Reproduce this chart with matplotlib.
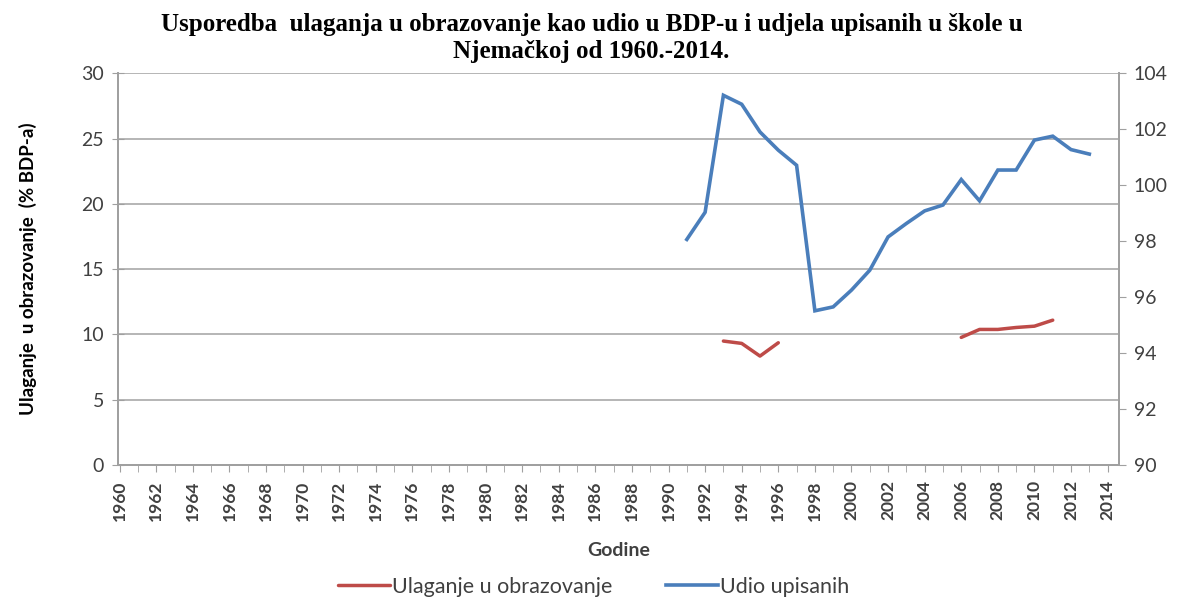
import numpy as np
import matplotlib
matplotlib.use("Agg")
import matplotlib.pyplot as plt
from matplotlib.ticker import MultipleLocator

# ── Data ──────────────────────────────────────────────────────────────────────
years_upis = list(range(1991, 2014))
udio_upisanih = [98.06, 99.03, 103.21, 102.89, 101.9, 101.25, 100.71, 95.51,
                 95.65, 96.25, 96.96, 98.15, 98.63, 99.08, 99.29, 100.2,
                 99.44, 100.54, 100.54, 101.61, 101.75, 101.27, 101.11]

years_ulag_a = [1993, 1994, 1995, 1996]
ulaganje_a = [9.49, 9.31, 8.34, 9.36]
years_ulag_b = [2006, 2007, 2008, 2009, 2010, 2011]
ulaganje_b = [9.77, 10.38, 10.38, 10.53, 10.63, 11.09]

year_ticks = list(range(1960, 2015, 2))

RED = "#be4b48"
BLUE = "#4a7ebb"
TXT = "#404040"

plt.rcParams.update({
    "font.family": ["Lato", "DejaVu Sans"],
    "axes.edgecolor": "#a0a0a0",
    "xtick.color": "#a0a0a0",
    "ytick.color": "#a0a0a0",
    "xtick.labelcolor": TXT,
    "ytick.labelcolor": TXT,
})

fig = plt.figure(figsize=(11.9, 6), dpi=100)
ax = fig.add_axes([0.099, 0.225, 0.841, 0.653])
ax2 = ax.twinx()

# red series on left axis, gap between the two runs
ax.plot(years_ulag_a, ulaganje_a, color=RED, lw=2.5, solid_capstyle="round")
ax.plot(years_ulag_b, ulaganje_b, color=RED, lw=2.5, solid_capstyle="round",
        label="Ulaganje u obrazovanje")
ax2.plot(years_upis, udio_upisanih, color=BLUE, lw=2.6, solid_joinstyle="miter",
         label="Udio upisanih")

ax.set_xlim(1959.9, 2014.6)
ax.set_ylim(0, 30)
ax2.set_ylim(90, 104)
ax.yaxis.set_major_locator(MultipleLocator(5))
ax2.yaxis.set_major_locator(MultipleLocator(2))
ax.set_xticks(year_ticks)
ax.set_xticks(range(1960, 2015), minor=True)
ax.set_xticklabels([str(y) for y in year_ticks], rotation=90, fontsize=12.5,
                   fontweight="bold")
ax.tick_params(axis="x", which="both", direction="out", length=5, pad=6)
ax.tick_params(axis="y", direction="inout", length=8, labelsize=14, pad=6)
ax2.tick_params(axis="y", direction="out", length=5, labelsize=14, pad=6)

ax.grid(axis="y", color="#b0b0b0", lw=1.3)
ax.set_axisbelow(True)
for a in (ax, ax2):
    a.spines["top"].set_visible(False)
    for s in ("left", "right", "bottom"):
        a.spines[s].set_linewidth(1.3)

ax.set_ylabel("Ulaganje  u obrazovanje  (% BDP-a)", fontsize=13.5,
              fontweight="bold", color="black", labelpad=32)
ax.set_xlabel("Godine", fontsize=14, fontweight="bold", color=TXT,
              labelpad=15)

fig.suptitle("Usporedba  ulaganja u obrazovanje kao udio u BDP-u i udjela "
             "upisanih u škole u\nNjemačkoj od 1960.-2014.",
             x=0.497, y=0.978, fontsize=18, fontweight="bold",
             family="Liberation Serif", linespacing=1.2)

h1, l1 = ax.get_legend_handles_labels()
h2, l2 = ax2.get_legend_handles_labels()
fig.legend(h1 + h2, l1 + l2, loc="center", bbox_to_anchor=(0.499, 0.022),
           ncol=2, frameon=False, fontsize=15.5, handlelength=2.4,
           handletextpad=0.1, columnspacing=2.5, labelcolor=TXT)

fig.savefig("out.png", dpi=100)
